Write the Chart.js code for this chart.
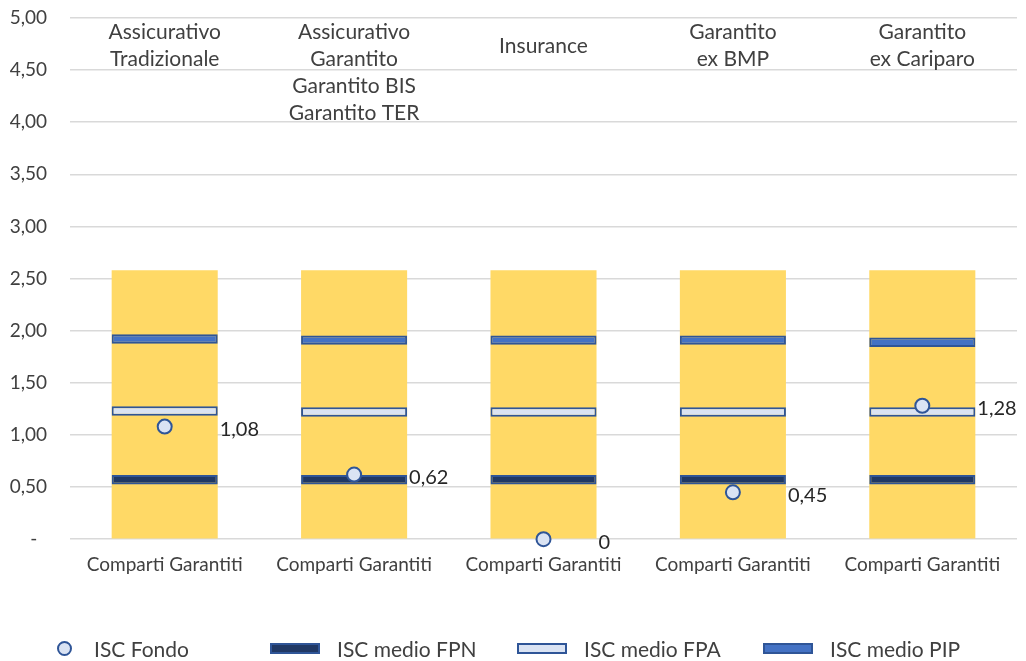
<!DOCTYPE html>
<html lang="it">
<head>
<meta charset="utf-8">
<title>ISC Comparti Garantiti</title>
<script src="https://cdn.jsdelivr.net/npm/chart.js@4.4.1/dist/chart.umd.min.js"></script>
<style>
  html, body { margin: 0; padding: 0; background: #fff; }
  #wrap { position: relative; width: 1026px; height: 661px; font-family: Lato, sans-serif; }
  #legend { position: absolute; left: 0; top: 636px; width: 1026px; height: 24px; }
  .item { position: absolute; top: 0; height: 24px; display: flex; align-items: center; font-size: 21px; color: #404040; white-space: nowrap; }
  .swatch { box-sizing: border-box; border: 2px solid #2F5597; width: 50px; height: 11px; margin-right: 17px; }
  .swatch.dot { width: 15px; height: 15px; border-radius: 50%; margin-right: 22px; }
</style>
</head>
<body>
<div id="wrap">
  <canvas id="chart" width="1026" height="661"></canvas>
  <div id="legend"></div>
</div>
<script>
// categorie e nomi dei comparti
const categorie = ['Comparti Garantiti', 'Comparti Garantiti', 'Comparti Garantiti', 'Comparti Garantiti', 'Comparti Garantiti'];
const nomiComparti = [
    ['Assicurativo', 'Tradizionale'],
    ['Assicurativo', 'Garantito', 'Garantito BIS', 'Garantito TER'],
    ['Insurance'],
    ['Garantito', 'ex BMP'],
    ['Garantito', 'ex Cariparo']
];

// valori ISC
const iscFondo = [1.08, 0.62, 0, 0.45, 1.28];
const iscMedioFPN = [0.57, 0.57, 0.57, 0.57, 0.57];
const iscMedioFPA = [1.23, 1.22, 1.22, 1.22, 1.22];
const iscMedioPIP = [1.92, 1.91, 1.91, 1.91, 1.89];
const iscMassimo = [2.58, 2.58, 2.58, 2.58, 2.58];

// etichette asse y
const etichetteY = ['-  ', '0,50', '1,00', '1,50', '2,00', '2,50', '3,00', '3,50', '4,00', '4,50', '5,00'];

const SPESSORE = 0.045; // metà altezza delle barrette orizzontali
const BORDO = '#2F5597';

function barretta(valori) {
    return valori.map(v => [v - SPESSORE, v + SPESSORE]);
}

function formatta(v) {
    return v === 0 ? '0' : v.toFixed(2).replace('.', ',');
}

// Plugin per i nomi dei comparti e le etichette dei punti
const etichette = {
    id: 'etichette',
    afterDatasetsDraw(chart) {
        const ctx = chart.ctx;
        const x = chart.scales.x;
        const top = chart.chartArea.top;
        ctx.save();
        ctx.fillStyle = '#404040';
        ctx.textBaseline = 'middle';

        ctx.font = '21px Lato';
        ctx.textAlign = 'center';
        nomiComparti.forEach((righe, i) => {
            const cx = x.getPixelForValue(i);
            const y0 = top + Math.max(14, 28 - (righe.length - 1) * 27 / 2);
            righe.forEach((r, j) => ctx.fillText(r, cx, y0 + j * 27));
        });

        ctx.font = '20px Lato';
        ctx.fillStyle = '#262626';
        ctx.textAlign = 'left';
        const meta = chart.getDatasetMeta(4);
        meta.data.forEach((p, i) => {
            ctx.fillText(formatta(iscFondo[i]), p.x + 55, p.y + 3);
        });
        ctx.restore();
    }
};

const grafico = new Chart(document.getElementById('chart'), {
    data: {
        labels: categorie,
        datasets: [
            {
                type: 'bar', label: 'ISC massimo', data: iscMassimo,
                backgroundColor: '#FFD966', grouped: false, order: 4,
                barPercentage: 0.56, categoryPercentage: 1
            },
            {
                type: 'bar', label: 'ISC medio FPN', data: barretta(iscMedioFPN),
                backgroundColor: '#203864', borderColor: BORDO, borderWidth: 2, borderSkipped: false,
                grouped: false, order: 2, barPercentage: 0.56, categoryPercentage: 1
            },
            {
                type: 'bar', label: 'ISC medio FPA', data: barretta(iscMedioFPA),
                backgroundColor: '#DAE3F3', borderColor: BORDO, borderWidth: 2, borderSkipped: false,
                grouped: false, order: 2, barPercentage: 0.56, categoryPercentage: 1
            },
            {
                type: 'bar', label: 'ISC medio PIP', data: barretta(iscMedioPIP),
                backgroundColor: '#4472C4', borderColor: BORDO, borderWidth: 2, borderSkipped: false,
                grouped: false, order: 2, barPercentage: 0.56, categoryPercentage: 1
            },
            {
                type: 'line', label: 'ISC Fondo', data: iscFondo,
                showLine: false, pointRadius: 7, pointHoverRadius: 7,
                pointBackgroundColor: '#DAE3F3', pointBorderColor: BORDO, pointBorderWidth: 2,
                order: 1, clip: false
            }
        ]
    },
    options: {
        responsive: false,
        animation: false,
        layout: { padding: { top: 18, right: 6, bottom: 71, left: 0 } },
        plugins: {
            legend: { display: false },
            tooltip: { enabled: false }
        },
        scales: {
            x: {
                grid: { display: false, drawTicks: false },
                border: { display: false },
                ticks: { font: { family: 'Lato', size: 19 }, color: '#404040', padding: 14, autoSkip: false, maxRotation: 0 }
            },
            y: {
                min: 0, max: 5,
                afterFit: s => { s.width = 70; },
                grid: { color: '#D9D9D9', lineWidth: 1.5, drawTicks: true, tickLength: 17, tickColor: 'rgba(0,0,0,0)' },
                border: { display: false },
                ticks: {
                    stepSize: 0.5, padding: 6,
                    font: { family: 'Lato', size: 19 }, color: '#404040',
                    callback: (v, i) => etichetteY[i]
                }
            }
        }
    },
    plugins: [etichette]
});

// Legenda costruita dai dataset
const posizioniLegenda = [57, 270, 517, 763];
const voci = [4, 1, 2, 3];
const legenda = document.getElementById('legend');
voci.forEach((d, k) => {
    const ds = grafico.data.datasets[d];
    const item = document.createElement('div');
    item.className = 'item';
    item.style.left = posizioniLegenda[k] + 'px';
    const sw = document.createElement('span');
    sw.className = ds.type === 'line' ? 'swatch dot' : 'swatch';
    sw.style.background = ds.type === 'line' ? ds.pointBackgroundColor : ds.backgroundColor;
    item.appendChild(sw);
    item.appendChild(document.createTextNode(ds.label));
    legenda.appendChild(item);
});
</script>
</body>
</html>
